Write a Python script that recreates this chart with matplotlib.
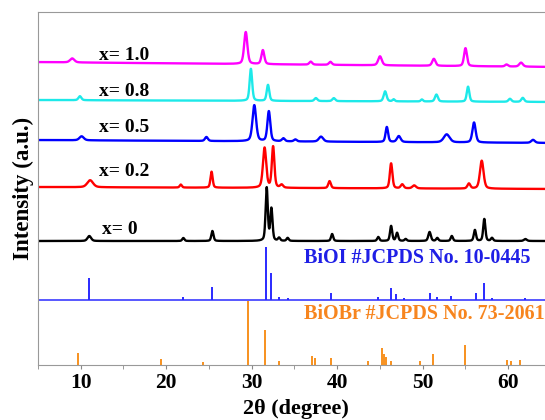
import numpy as np
import matplotlib
matplotlib.use("Agg")
import matplotlib.pyplot as plt
from matplotlib.ticker import MultipleLocator

plt.rcParams['font.family'] = ['Liberation Serif', 'DejaVu Serif']
plt.rcParams['font.weight'] = 'bold'

# peak lists: (2theta, height, fwhm)
peaks_x0 = [(11.0, 5, 0.5), (22.0, 3, 0.3), (25.4, 10, 0.3), (31.75, 53, 0.3), (32.3, 32, 0.3),
            (33.2, 3, 0.3), (34.2, 3, 0.3), (39.4, 7, 0.3), (44.8, 4, 0.3), (46.3, 15, 0.3),
            (47.0, 8, 0.3), (48.0, 2, 0.3), (50.8, 9, 0.35), (51.7, 3, 0.3), (53.4, 5, 0.3),
            (56.1, 11, 0.3), (57.2, 22, 0.3), (58.1, 3, 0.3), (62.0, 2, 0.4)]
peaks_x02 = [(11.1, 7, 0.8), (21.7, 3, 0.3), (25.3, 16, 0.3), (31.5, 40, 0.45), (32.5, 41, 0.35),
             (33.5, 3, 0.4), (39.1, 7, 0.35), (46.3, 25, 0.35), (47.6, 4, 0.4), (49.0, 3, 0.5),
             (55.4, 5, 0.4), (56.9, 28, 0.5)]
peaks_x05 = [(10.1, 4, 0.6), (24.7, 4, 0.4), (30.3, 36, 0.5), (32.0, 30, 0.4), (33.7, 3, 0.4),
             (35.1, 2, 0.4), (38.1, 5, 0.6), (45.8, 15, 0.35), (47.2, 6, 0.5), (52.8, 8, 0.8),
             (56.0, 20, 0.45), (62.9, 3, 0.5)]
peaks_x08 = [(9.9, 4, 0.4), (29.9, 32, 0.35), (31.9, 16, 0.35), (37.5, 3, 0.4), (39.6, 3, 0.4),
             (45.6, 10, 0.4), (46.6, 2, 0.3), (49.9, 2, 0.3), (51.6, 7, 0.4), (55.3, 15, 0.35),
             (60.2, 3, 0.4), (61.7, 4, 0.4)]
peaks_x10 = [(9.0, 4, 0.6), (29.3, 32, 0.45), (31.3, 14, 0.4), (36.9, 3, 0.4), (39.2, 3, 0.4),
             (45.0, 9, 0.5), (51.3, 7, 0.45), (55.0, 18, 0.4), (59.8, 2, 0.4), (61.5, 4, 0.5)]

# label, peaks, baseline offsets (left, right), colour, label x, label y
samples = [
    ("x= 0", peaks_x0, (124, 124), 'black', 12.5, 135),
    ("x= 0.2", peaks_x02, (178, 176), 'red', 12.1, 193),
    ("x= 0.5", peaks_x05, (225, 222), '#0000ff', 12.1, 238),
    ("x= 0.8", peaks_x08, (265, 263), '#1de9e9', 12.1, 273),
    ("x= 1.0", peaks_x10, (303, 298), '#ff00ff', 12.1, 310),
]

# standard cards
bioi_pos = [11.0, 22.0, 25.3, 31.7, 32.2, 33.2, 34.2, 39.3, 44.8, 46.3, 46.9, 47.8,
            50.8, 51.7, 53.3, 56.2, 57.2, 58.1, 62.0]
bioi_int = [22, 3, 13, 53, 27, 3, 2, 7, 3, 12, 6, 2, 7, 3, 4, 7, 17, 2, 2]
biobr_pos = [9.7, 19.4, 24.3, 29.6, 31.6, 33.2, 37.0, 37.4, 39.3, 43.6, 45.2, 45.5, 45.7,
             46.3, 49.7, 51.2, 55.0, 59.8, 60.3, 61.4]
biobr_int = [12, 6, 3, 64, 35, 4, 9, 7, 7, 4, 17, 11, 8, 4, 4, 11, 20, 5, 4, 5]
bioi_base = 65

tth = np.linspace(4, 66, 4000)


def pattern(peaks):
    y = np.zeros_like(tth)
    for c, h, w in peaks:
        g = np.exp(-4 * np.log(2) * ((tth - c) / w) ** 2)
        lo = 1 / (1 + 4 * ((tth - c) / w) ** 2)
        y += h * (0.6 * g + 0.4 * lo)
    return y


fig = plt.figure(figsize=(5.45, 4.2), dpi=100)
ax = fig.add_axes([38 / 545, 55 / 420, 507 / 545, 353 / 420])

for label, peaks, (b0, b1), color, lx, ly in samples:
    base = b0 + (b1 - b0) * (tth - tth[0]) / (tth[-1] - tth[0])
    ax.plot(tth, base + pattern(peaks), color=color, lw=1.7)
    ax.text(lx, ly, label, fontsize=14, fontweight='bold', va='center', ha='left')

ax.axhline(bioi_base, color='#2a2aff', lw=1.1)
ax.vlines(bioi_pos, bioi_base, [bioi_base + h for h in bioi_int], color='#2a2aff', lw=1.4)
ax.vlines(biobr_pos, 0, biobr_int, color='#f7911e', lw=1.4)

ax.text(36.1, 107, "BiOI #JCPDS No. 10-0445", color='#1f1fe6', fontsize=14.5,
        fontweight='bold', va='center', ha='left')
ax.text(36.1, 51, "BiOBr #JCPDS No. 73-2061", color='#f7851e', fontsize=14.5,
        fontweight='bold', va='center', ha='left')

ax.set_xlim(5, 64.3)
ax.set_ylim(0, 353)
ax.xaxis.set_major_locator(MultipleLocator(10))
ax.xaxis.set_minor_locator(MultipleLocator(5))
ax.tick_params(axis='x', which='both', direction='out', length=3, color='#888888',
               labelsize=15.5, pad=3)
ax.set_yticks([])
for s in ['left', 'bottom', 'top']:
    ax.spines[s].set_color('#999999')
ax.spines['right'].set_visible(False)
for t in ax.get_xticklabels():
    t.set_fontweight('bold')

ax.set_xlabel("2θ (degree)", fontsize=16, fontweight='bold')
ax.xaxis.set_label_coords(0.5, 1 - 399 / 420, transform=fig.transFigure)
ax.xaxis.label.set_position((296 / 545, 1 - 399 / 420))
ax.set_ylabel("Intensity (a.u.)", fontsize=16.5, fontweight='bold', labelpad=3)

fig.savefig("out.png", dpi=100)
